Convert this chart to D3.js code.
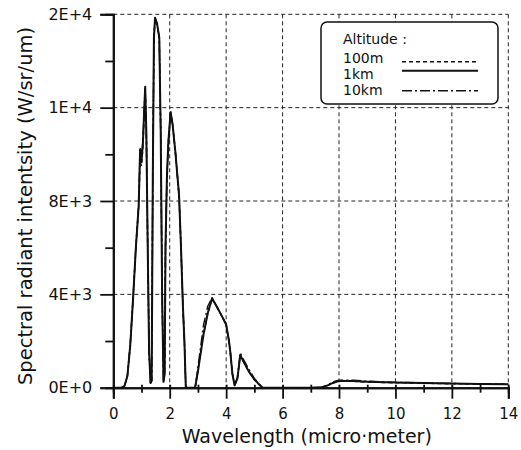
<!DOCTYPE html>
<html>
<head>
<meta charset="utf-8">
<script src="https://cdnjs.cloudflare.com/ajax/libs/d3/7.8.5/d3.min.js"></script>
<style>
    body { margin: 0; background: #fff; }
    text { font-family: "DejaVu Sans", sans-serif; fill: #111; }
</style>
</head>
<body>
<svg id="chart" width="521" height="450"></svg>
<script>

    // wavelength samples (micro-meter)
    var wavelength = [0, 0.3, 0.4, 0.5, 0.6, 0.7, 0.8, 0.9, 0.95, 1.0,
        1.05, 1.1, 1.13, 1.17, 1.22, 1.27, 1.32, 1.36, 1.40, 1.44,
        1.48, 1.55, 1.63, 1.68, 1.73, 1.78, 1.82, 1.85, 1.9, 1.95,
        2.03, 2.1, 2.2, 2.33, 2.4, 2.47, 2.52, 2.57, 2.7, 2.9,
        3.0, 3.2, 3.35, 3.5, 3.7, 3.9, 4.0, 4.1, 4.15, 4.22,
        4.3, 4.4, 4.5, 4.6, 4.8, 5.0, 5.2, 5.3, 6, 7,
        7.4, 7.6, 7.8, 8.0, 8.5, 9, 10, 11, 12, 13,
        14];

    // spectral radiant intensity (W/sr/um) per altitude
    var alt100m = [0, 0, 80, 500, 1800, 3800, 6000, 7700, 9700, 9500,
        10300, 11900, 12800, 11000, 6000, 1500, 200, 300, 9000, 15000,
        15800, 15600, 15000, 11000, 4000, 250, 600, 6000, 9000, 10500,
        11800, 11300, 10100, 8250, 6000, 3400, 2000, 0, 0, 0,
        700, 2300, 3200, 3800, 3400, 2950, 2700, 2000, 1500, 600,
        100, 400, 1400, 1150, 700, 350, 100, 0, 0, 0,
        20, 100, 200, 270, 270, 240, 210, 190, 170, 160,
        150];

    var alt1km = [0, 0, 80, 500, 1800, 3800, 6000, 7800, 10200, 9700,
        10500, 12000, 12900, 11000, 6000, 1500, 200, 300, 9000, 15000,
        15850, 15600, 15000, 11000, 4000, 250, 600, 6000, 9000, 10500,
        11800, 11300, 10100, 8250, 6000, 3400, 2000, 0, 0, 0,
        700, 2300, 3200, 3830, 3400, 2950, 2700, 2000, 1500, 600,
        100, 400, 1400, 1150, 700, 350, 100, 0, 0, 0,
        20, 100, 220, 290, 290, 260, 220, 200, 180, 160,
        150];

    var alt10km = [0, 0, 80, 520, 1850, 3850, 6050, 7900, 10300, 9800,
        10600, 12100, 12900, 11000, 6000, 1500, 200, 300, 9000, 15000,
        15850, 15600, 15000, 11000, 4000, 250, 600, 6000, 9000, 10500,
        11850, 11300, 10100, 8250, 6000, 3400, 2000, 0, 0, 0,
        900, 2700, 3500, 3850, 3400, 2950, 2700, 2000, 1500, 600,
        100, 450, 1500, 1250, 800, 400, 120, 0, 0, 0,
        20, 120, 260, 320, 320, 280, 230, 200, 180, 160,
        150];

    var xMajor = [0, 2, 4, 6, 8, 10, 12, 14];
    var xMinor = [1, 3, 5, 7, 9, 11, 13];
    var yMajor = [0, 4000, 8000, 12000, 16000];
    var yMinor = [2000, 6000, 10000, 14000];

    var seriesNames = ['100m', '1km', '10km'];

    var margin = {top: 14.3, right: 12.7, bottom: 62.3, left: 113.3};
    var w = 521 - margin.left - margin.right;
    var h = 450 - margin.top - margin.bottom;

    var svg = d3.select('#chart')
        .append('g')
        .attr('transform', 'translate(' + margin.left + ',' + margin.top + ')');

    // Define our scales
    var xScale = d3.scaleLinear().domain([0, 14]).range([0, w]);
    var yScale = d3.scaleLinear().domain([0, 16000]).range([h, 0]);

    // dashed grid
    svg.append('g')
        .selectAll('line')
        .data(xMajor.slice(1))
        .enter().append('line')
        .attr('x1', function(d) { return xScale(d); })
        .attr('x2', function(d) { return xScale(d); })
        .attr('y1', 0).attr('y2', h)
        .attr('stroke', '#222').attr('stroke-width', 1)
        .attr('stroke-dasharray', '4,3');

    svg.append('g')
        .selectAll('line')
        .data(yMajor.slice(1))
        .enter().append('line')
        .attr('x1', 0).attr('x2', w)
        .attr('y1', function(d) { return yScale(d); })
        .attr('y2', function(d) { return yScale(d); })
        .attr('stroke', '#222').attr('stroke-width', 1)
        .attr('stroke-dasharray', '4,3');

    // lines
    var rows = wavelength.map(function(x, i) {
        return {x: x, s: [alt100m[i], alt1km[i], alt10km[i]]};
    });

    var styles = [
        {dash: '4,3', width: 1.4},
        {dash: null, width: 2},
        {dash: '10,3,2,3', width: 1.4}
    ];

    [1, 0, 2].forEach(function(k) {
        var line = d3.line()
            .x(function(d) { return xScale(d.x); })
            .y(function(d) { return yScale(d.s[k]); });
        svg.append('path')
            .datum(rows)
            .attr('d', line)
            .attr('fill', 'none')
            .attr('stroke', '#111')
            .attr('stroke-width', styles[k].width)
            .attr('stroke-linejoin', 'round')
            .attr('stroke-dasharray', styles[k].dash);
    });

    // axes
    var fmt = function(d) { return d3.format('.0e')(d).toUpperCase(); };

    var yAxis = d3.axisLeft(yScale).tickValues(yMajor).tickSize(13).tickPadding(8).tickFormat(fmt);
    var yAxisMinor = d3.axisLeft(yScale).tickValues(yMinor).tickSize(8).tickFormat('');
    var xAxis = d3.axisBottom(xScale).tickValues(xMajor).tickSize(11).tickPadding(10).tickFormat(d3.format('d'));
    var xAxisMinor = d3.axisBottom(xScale).tickValues(xMinor).tickSize(5).tickFormat('');

    svg.append('g').attr('class', 'y axis').call(yAxis);
    svg.append('g').attr('class', 'y axis').call(yAxisMinor);
    svg.append('g').attr('class', 'x axis').attr('transform', 'translate(0,' + h + ')').call(xAxis);
    svg.append('g').attr('class', 'x axis').attr('transform', 'translate(0,' + h + ')').call(xAxisMinor);

    svg.selectAll('.axis path').attr('stroke', '#111').attr('stroke-width', 2);
    svg.selectAll('.axis line').attr('stroke', '#111').attr('stroke-width', 1.8);
    svg.selectAll('.x.axis line').attr('y1', -3);
    svg.selectAll('.axis text')
        .attr('font-family', '"DejaVu Sans", sans-serif')
        .attr('font-size', '16px')
        .attr('fill', '#111');
    svg.selectAll('.x.axis text').attr('font-size', '15px');

    // axis titles
    svg.append('text')
        .attr('x', xScale(7) - 4)
        .attr('y', h + 55)
        .style('text-anchor', 'middle')
        .attr('font-size', '19px')
        .text('Wavelength (micro\u00b7meter)');

    svg.append('text')
        .attr('transform', 'rotate(-90)')
        .attr('x', -(206 - margin.top))
        .attr('y', 32 - margin.left)
        .style('text-anchor', 'middle')
        .attr('font-size', '19.5px')
        .text('Spectral radiant intentsity (W/sr/um)');

    // legend
    var legend = svg.append('g')
        .attr('transform', 'translate(' + (321 - margin.left) + ',' + (22 - margin.top) + ')');

    legend.append('rect')
        .attr('width', 177).attr('height', 82)
        .attr('rx', 6).attr('ry', 6)
        .attr('fill', '#fff')
        .attr('stroke', '#111').attr('stroke-width', 1.5);

    legend.append('text')
        .attr('x', 22).attr('y', 22)
        .attr('font-size', '14px')
        .text('Altitude :');

    var textY = [40.5, 56.5, 73];
    var lineY = [39.7, 48.7, 68.7];

    seriesNames.forEach(function(name, k) {
        legend.append('text')
            .attr('x', 22).attr('y', textY[k])
            .attr('font-size', '14px')
            .text(name);
        legend.append('line')
            .attr('x1', 81).attr('x2', 157)
            .attr('y1', lineY[k]).attr('y2', lineY[k])
            .attr('stroke', '#111')
            .attr('stroke-width', styles[k].width)
            .attr('stroke-dasharray', styles[k].dash);
    });

</script>
</body>
</html>
